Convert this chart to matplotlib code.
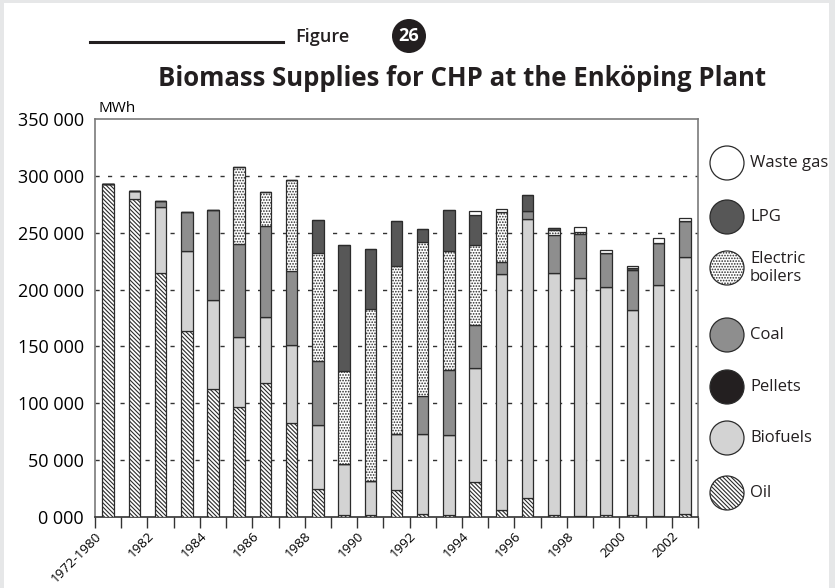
import numpy as np
import matplotlib
matplotlib.use('Agg')
import matplotlib.pyplot as plt
from matplotlib.patches import Circle, Rectangle
from matplotlib.lines import Line2D

plt.rcParams['font.family'] = ['Open Sans', 'DejaVu Sans']
plt.rcParams['hatch.linewidth'] = 0.8

# Data (MWh)
years = ['1972-1980', '1981', '1982', '1983', '1984', '1985', '1986', '1987',
         '1988', '1989', '1990', '1991', '1992', '1993', '1994', '1995',
         '1996', '1997', '1998', '1999', '2000', '2001', '2002']
oil = [293, 280, 215, 164, 113, 97, 118, 83, 25, 2, 2, 24, 3, 2, 31, 6,
       17, 2, 1, 2, 2, 1, 3]
biofuels = [0, 7, 58, 70, 78, 61, 58, 68, 56, 45, 30, 49, 70, 70, 100, 208,
            245, 213, 209, 200, 180, 203, 226]
pellets = [0] * 23
coal = [0, 0, 5, 34, 79, 82, 80, 65, 56, 0, 0, 0, 33, 57, 38, 10,
        7, 33, 39, 30, 35, 37, 31]
electric = [0, 0, 0, 0, 0, 68, 30, 80, 95, 81, 151, 148, 136, 105, 70, 44,
            0, 4, 2, 0, 0, 0, 0]
lpg = [0, 0, 0, 0, 0, 0, 0, 0, 29, 111, 53, 39, 11, 36, 27, 0,
       14, 2, 0, 0, 2, 0, 0]
waste_gas = [0, 0, 0, 0, 0, 0, 0, 0, 0, 0, 0, 0, 0, 0, 3, 3,
             0, 0, 4, 3, 2, 4, 3]

series = [
    ('Oil', oil, 'white', '\\' * 8),
    ('Biofuels', biofuels, '#d3d3d3', None),
    ('Pellets', pellets, '#231f20', None),
    ('Coal', coal, '#8e8e8e', None),
    ('Electric\nboilers', electric, 'white', '.' * 6),
    ('LPG', lpg, '#575757', None),
    ('Waste gas', waste_gas, 'white', None),
]

W, H = 835, 588
fig = plt.figure(figsize=(W / 100, H / 100), dpi=100)
fig.patch.set_facecolor('#e6e7e8')
fig.add_artist(Rectangle((4 / W, 0), (829 - 4) / W, (H - 3) / H,
                         transform=fig.transFigure, facecolor='white',
                         edgecolor='none', zorder=0))

ax = fig.add_axes([95 / W, 1 - 517 / H, (698 - 95) / W, (517 - 119) / H])
x = np.arange(len(years))
bottom = np.zeros(len(years))
for name, vals, color, hatch in series:
    v = np.array(vals, dtype=float) * 1000
    ax.bar(x, v, width=0.44, bottom=bottom, color=color, hatch=hatch,
           edgecolor='#2b2b2b', linewidth=0.9, zorder=3)
    bottom += v

ax.set_xlim(-0.5, len(years) - 0.5)
ax.set_ylim(0, 350000)
for yv in range(50000, 300001, 50000):
    ax.axhline(yv, color='#333333', linewidth=1.0, linestyle=(0, (3, 6)), zorder=1)

yticks = list(range(0, 350001, 50000))
ax.set_yticks(yticks)
ax.set_yticklabels(['{:d} 000'.format(v // 1000) if v else '0 000' for v in yticks],
                   fontsize=13)
ax.tick_params(axis='y', length=0, pad=8)
ax.set_xticks(np.arange(len(years) + 1) - 0.5)
ax.set_xticklabels([years[i] if i % 2 == 0 and i < len(years) else ''
                    for i in range(len(years) + 1)],
                   rotation=45, ha='right', va='top', rotation_mode='anchor',
                   fontsize=9.6)
ax.tick_params(axis='x', length=8, width=1, color='#333333', pad=1)
for s in ax.spines.values():
    s.set_color('#7a7a7a')
    s.set_linewidth(1.2)
ax.spines['bottom'].set_color('#333333')

fig.text(98 / W, 1 - 108 / H, 'MWh', fontsize=11, va='center', ha='left')

# header
fig.add_artist(Line2D([90 / W, 283 / W], [1 - 42 / H, 1 - 42 / H],
                      color='#231f20', linewidth=2.2, transform=fig.transFigure))
fig.text(322 / W, 1 - 37 / H, 'Figure', fontsize=13, ha='center', va='center',
         fontweight='semibold', color='#231f20')
fig.text(462 / W, 1 - 78 / H, 'Biomass Supplies for CHP at the Enköping Plant',
         fontsize=18.5, fontweight='bold', ha='center', va='center', color='#231f20')

# overlay axes in pixel units for circles (header badge + legend)
pax = fig.add_axes([0, 0, 1, 1], facecolor='none')
pax.set_xlim(0, W)
pax.set_ylim(H, 0)
pax.axis('off')
pax.add_patch(Circle((409, 36), 17, facecolor='#231f20', edgecolor='none'))
pax.text(409, 36, '26', color='white', fontsize=13, fontweight='bold',
         ha='center', va='center')

legend_y = [493, 438, 387, 335, 268, 217, 163]
for (name, vals, color, hatch), ly in zip(series, legend_y):
    pax.add_patch(Circle((727, ly), 17, facecolor=color, hatch=hatch,
                         edgecolor='#2b2b2b', linewidth=0.9))
    pax.text(750, ly, name, fontsize=12, ha='left', va='center',
             linespacing=1.1, color='#231f20')

fig.savefig('out.png', dpi=100)
